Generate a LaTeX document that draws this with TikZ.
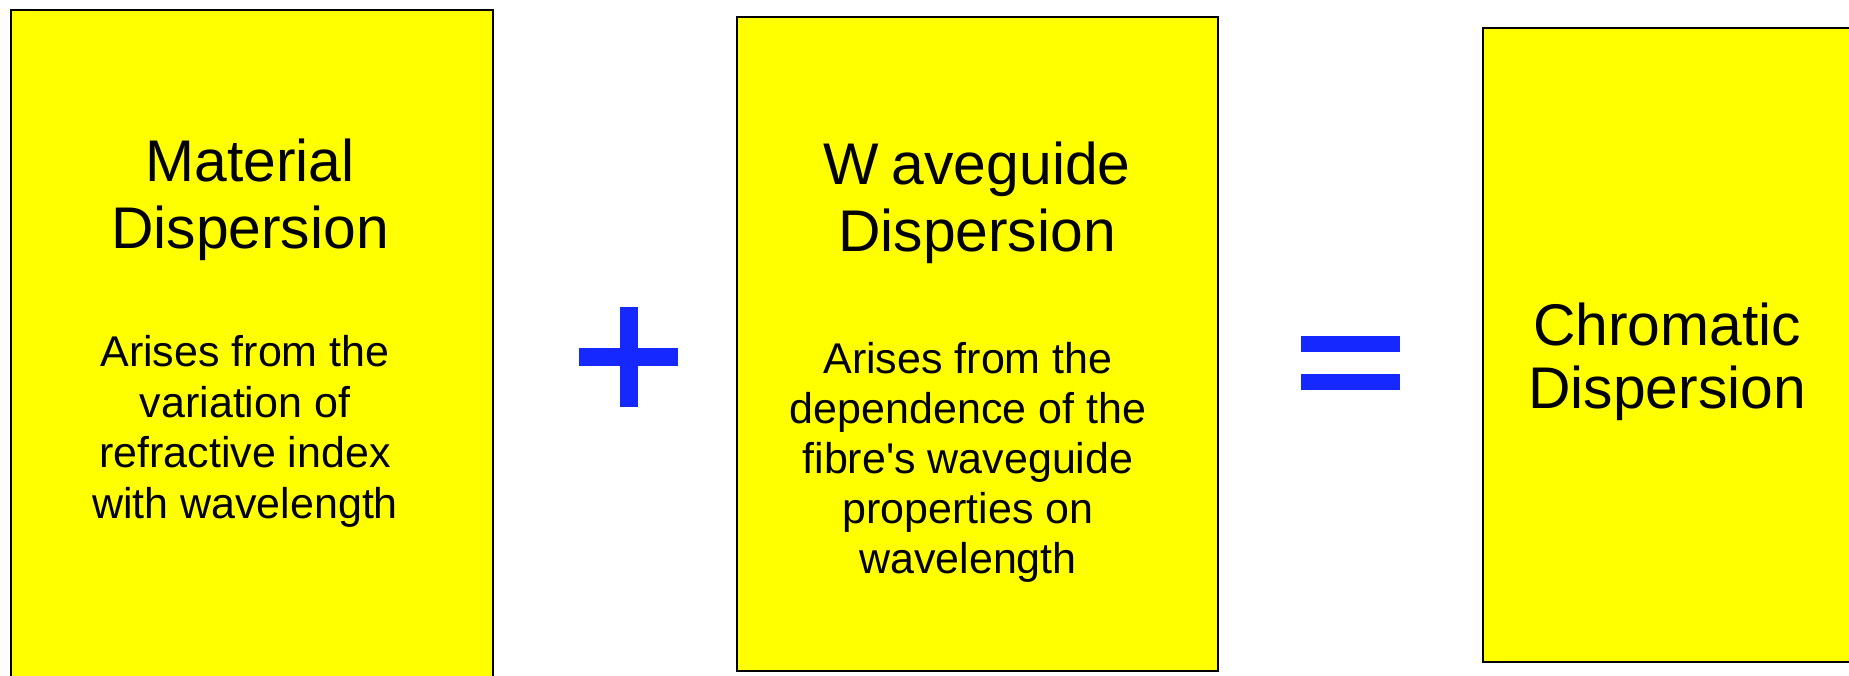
\documentclass[tikz,border=0pt]{standalone}
\usepackage{fontspec}
\setmainfont{Liberation Sans}[Ligatures=TeXOff]
\definecolor{boxyellow}{RGB}{255,255,0}
\definecolor{opblue}{RGB}{20,40,255}
\begin{document}
\begin{tikzpicture}[x=1pt,y=-1pt,
  panel/.style={draw=black,line width=1.5pt,fill=boxyellow},
  opbar/.style={fill=opblue,draw=none},
  title/.style={anchor=base,align=center,inner sep=0pt,font=\fontsize{58.8}{66.5}\selectfont},
  body/.style={anchor=base,align=center,inner sep=0pt,font=\fontsize{43}{50.5}\selectfont}]
\useasboundingbox (0,0) rectangle (1849,675);
% panels
\path[panel] (11,10) rectangle (493,690);
\path[panel] (737,17) rectangle (1218,671);
\path[panel] (1483,28) rectangle (1860,662);
% texts (base anchor = baseline of the last line)
\node[title] (mt) at (250,248) {Material\\Dispersion};
\node[body] (mb) at (245,518) {Arises from the\\variation of\\refractive index\\with wavelength};
\node[title] (wt) at (977,251) {W\kern0.22em aveguide\\Dispersion};
\node[body,font=\fontsize{43}{50}\selectfont] (wb) at (968,573) {Arises from the\\dependence of the\\fibre's waveguide\\properties on\\wavelength};
\node[title,font=\fontsize{58.8}{62.7}\selectfont] (ct) at (1667,408) {Chromatic\\Dispersion};
% plus
\path[opbar] (620,307) rectangle (638,407);
\path[opbar] (579,348) rectangle (678,366);
% equals
\path[opbar] (1301,336) rectangle (1400,352);
\path[opbar] (1301,374) rectangle (1400,390);
\end{tikzpicture}
\end{document}
